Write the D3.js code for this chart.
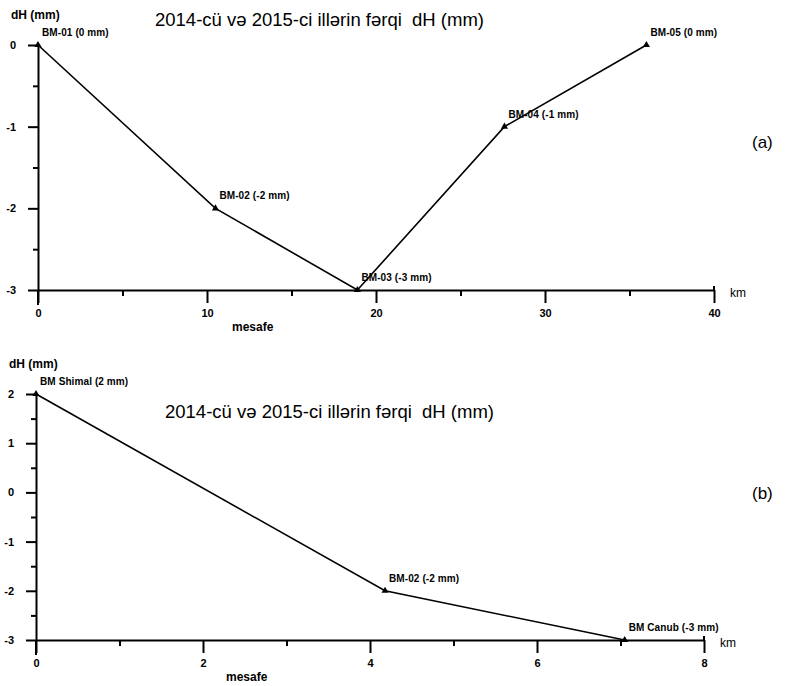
<!DOCTYPE html>
<html>
<head>
<meta charset="utf-8">
<script src="https://cdn.jsdelivr.net/npm/d3@7/dist/d3.min.js"></script>
<style>
  body { margin: 0; background: #fff; }
  svg { display: block; font-family: "Liberation Sans", Arial, sans-serif; }
  .tick-label { font-size: 11px; font-weight: bold; }
  .pt-label { font-size: 10px; font-weight: bold; letter-spacing: 0.1px; }
  .title { font-size: 18.5px; white-space: pre; }
  .tag { font-size: 17px; }
</style>
</head>
<body>
<div id="chart"></div>
<script>
'use strict';

// (a) 2014 vs 2015 profile
const distA = [0, 10.5, 18.9, 27.6, 36.0];
const dhA = [0, -2, -3, -1, 0];
const namesA = ['BM-01 (0 mm)', 'BM-02 (-2 mm)', 'BM-03 (-3 mm)', 'BM-04 (-1 mm)', 'BM-05 (0 mm)'];
const xTicksA = [0, 10, 20, 30, 40];
const yTicksA = [0, -1, -2, -3];

// (b) north-south profile
const distB = [0, 4.18, 7.05];
const dhB = [2, -2, -3];
const namesB = ['BM Shimal (2 mm)', 'BM-02 (-2 mm)', 'BM Canub (-3 mm)'];
const xTicksB = [0, 2, 4, 6, 8];
const yTicksB = [2, 1, 0, -1, -2, -3];

const titleText = '2014-cü və 2015-ci illərin fərqi  dH (mm)';

const svg = d3.select('#chart').append('svg')
    .attr('width', 790)
    .attr('height', 686);

function panel(cfg) {
  const x = d3.scaleLinear().domain(cfg.xDomain).range([cfg.left, cfg.right]);
  const y = d3.scaleLinear().domain(cfg.yDomain).range([cfg.bottom, cfg.top]);
  const g = svg.append('g');

  // minor ticks at half steps
  const xStep = cfg.xTicks[1] - cfg.xTicks[0];
  const xMinor = cfg.xTicks.slice(0, -1).map(v => v + xStep / 2);
  const yMinor = cfg.yTicks.slice(0, -1).map(v => v - 0.5);

  g.append('g')
      .attr('transform', `translate(0, ${cfg.bottom})`)
      .call(d3.axisBottom(x).tickValues(cfg.xTicks).tickSize(13).tickSizeOuter(0).tickPadding(6)
        .tickFormat(d3.format('d')));
  g.append('g')
      .attr('transform', `translate(0, ${cfg.bottom})`)
      .call(d3.axisBottom(x).tickValues(xMinor).tickSize(6).tickSizeOuter(0).tickFormat(''))
      .select('.domain').remove();

  g.append('g')
      .attr('transform', `translate(${cfg.left}, 0)`)
      .call(d3.axisLeft(y).tickValues(cfg.yTicks).tickSize(10).tickSizeOuter(0).tickPadding(12)
        .tickFormat(d3.format('d')));
  g.append('g')
      .attr('transform', `translate(${cfg.left}, 0)`)
      .call(d3.axisLeft(y).tickValues(yMinor).tickSize(5).tickSizeOuter(0).tickFormat(''))
      .select('.domain').remove();

  g.selectAll('.domain, .tick line').attr('stroke', '#000').attr('stroke-width', 2);
  g.selectAll('.tick text').attr('class', 'tick-label').attr('fill', '#000')
      .text(function () { return this.textContent.replace('−', '-'); });

  // y axis runs down past the x axis; x axis end cap goes up a little
  g.append('line')
      .attr('x1', cfg.left).attr('x2', cfg.left)
      .attr('y1', cfg.bottom).attr('y2', cfg.bottom + 15)
      .attr('stroke', '#000').attr('stroke-width', 2);
  g.append('line')
      .attr('x1', cfg.right).attr('x2', cfg.right)
      .attr('y1', cfg.bottom - 4).attr('y2', cfg.bottom)
      .attr('stroke', '#000').attr('stroke-width', 2);

  // axis labels
  g.append('text').attr('x', cfg.left - 27).attr('y', cfg.top - 26)
      .attr('class', 'tick-label').style('font-size', '12px').text('dH (mm)');
  g.append('text').attr('x', cfg.right + 16).attr('y', cfg.bottom + 7)
      .attr('class', 'tick-label').style('font-size', '12px').style('font-weight', 'normal').text('km');
  g.append('text').attr('x', cfg.mesafeX).attr('y', cfg.bottom + 41)
      .attr('class', 'tick-label').style('font-size', '12px').text('mesafe');

  // data line and markers
  const pts = cfg.dist.map((d, i) => [d, cfg.dh[i]]);
  g.append('path')
      .datum(pts)
      .attr('fill', 'none')
      .attr('stroke', '#000')
      .attr('stroke-width', 1.6)
      .attr('d', d3.line().x(d => x(d[0])).y(d => y(d[1])));

  g.selectAll('.marker').data(pts).join('path')
      .attr('class', 'marker')
      .attr('transform', d => `translate(${x(d[0])}, ${y(d[1])})`)
      .attr('d', d3.symbol(d3.symbolTriangle, 22));

  g.selectAll('.pt-label').data(pts).join('text')
      .attr('class', 'pt-label')
      .attr('x', d => x(d[0]) + 4)
      .attr('y', d => y(d[1]) - 9)
      .text((d, i) => cfg.names[i]);

  // title and panel tag
  g.append('text').attr('class', 'title')
      .attr('x', cfg.titleX).attr('y', cfg.titleY).text(titleText);
  g.append('text').attr('class', 'tag')
      .attr('x', 752).attr('y', cfg.tagY).text(cfg.tag);
}

panel({
  xDomain: [0, 40], yDomain: [-3, 0],
  left: 38, right: 714, top: 45, bottom: 290,
  xTicks: xTicksA, yTicks: yTicksA,
  dist: distA, dh: dhA, names: namesA,
  mesafeX: 232, titleX: 155, titleY: 26, tag: '(a)', tagY: 148
});

panel({
  xDomain: [0, 8], yDomain: [-3, 2],
  left: 36, right: 704, top: 394, bottom: 640,
  xTicks: xTicksB, yTicks: yTicksB,
  dist: distB, dh: dhB, names: namesB,
  mesafeX: 226, titleX: 165, titleY: 418, tag: '(b)', tagY: 499
});
</script>
</body>
</html>
